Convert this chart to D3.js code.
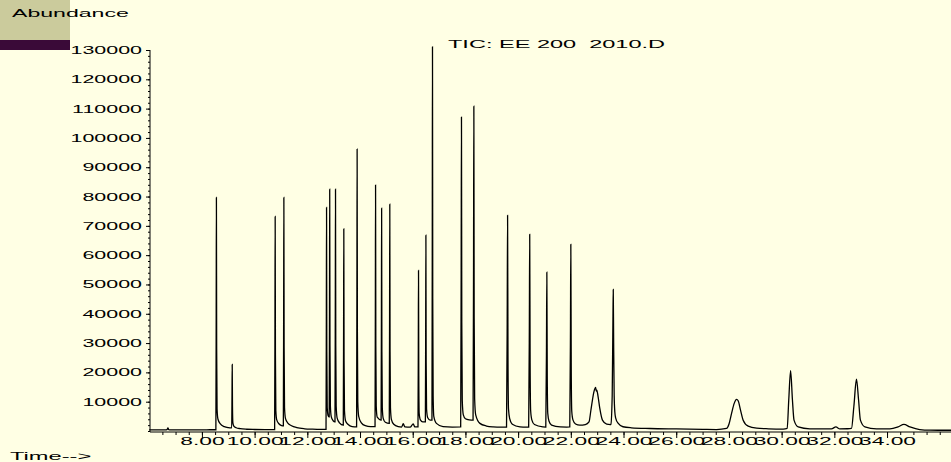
<html>
<script src="https://d3js.org/d3.v7.min.js"></script>
<body style="margin:0;background:#ffffe4">
<svg width=951 height=462></svg>
<script>
// labels and axis ticks
const yLabel = "Abundance";
const xLabel = "Time-->";
const title = "TIC: EE 200  2010.D";
const yTicks = [10000, 20000, 30000, 40000, 50000, 60000, 70000, 80000, 90000, 100000, 110000, 120000, 130000];
const xTicks = [8, 10, 12, 14, 16, 18, 20, 22, 24, 26, 28, 30, 32, 34];

// total ion chromatogram (min, counts)
const time = [
  6.00, 6.30, 6.60, 6.68, 6.71, 6.74, 6.80, 7.20, 7.60, 8.00, 8.30, 8.53,
  8.542, 8.55, 8.56, 8.575, 8.61, 8.70, 8.85, 9.00, 9.13,
  9.142, 9.15, 9.16, 9.175, 9.21, 9.30, 9.45, 9.70, 10.00, 10.40, 10.76,
  10.772, 10.78, 10.79, 10.805, 10.84, 10.93, 11.03, 11.09,
  11.102, 11.11, 11.12, 11.135, 11.17, 11.26, 11.40, 11.60, 11.90, 12.20, 12.50, 12.71,
  12.722, 12.73, 12.74, 12.755, 12.79, 12.83,
  12.842, 12.85, 12.86, 12.875, 12.91, 12.98, 13.05,
  13.062, 13.07, 13.08, 13.095, 13.13, 13.22, 13.365,
  13.377, 13.385, 13.395, 13.41, 13.45, 13.55, 13.70, 13.87,
  13.882, 13.89, 13.90, 13.915, 13.95, 14.05, 14.20, 14.40, 14.57,
  14.582, 14.59, 14.60, 14.615, 14.65, 14.70, 14.74, 14.80,
  14.812, 14.82, 14.83, 14.845, 14.88, 14.96, 15.11,
  15.122, 15.13, 15.14, 15.155, 15.19, 15.28, 15.45, 15.58, 15.64, 15.70, 15.90, 16.02, 16.08, 16.20,
  16.212, 16.22, 16.23, 16.245, 16.29, 16.38, 16.48,
  16.492, 16.50, 16.51, 16.525, 16.57, 16.66, 16.73,
  16.742, 16.75, 16.76, 16.775, 16.80, 16.90, 17.15, 17.50, 17.82,
  17.838, 17.85, 17.862, 17.88, 17.92, 18.00, 18.15, 18.29,
  18.308, 18.32, 18.332, 18.35, 18.39, 18.55, 18.80, 19.05, 19.35, 19.56,
  19.585, 19.60, 19.615, 19.635, 19.68, 19.78, 20.07, 20.30, 20.40,
  20.425, 20.44, 20.455, 20.475, 20.52, 20.62, 20.94, 21.05,
  21.075, 21.09, 21.105, 21.125, 21.17, 21.27, 21.60, 21.84, 21.96,
  21.985, 22.00, 22.015, 22.035, 22.08, 22.18, 22.34, 22.55, 22.69,
  22.76, 22.82, 22.88, 22.94, 22.965, 22.985, 23.03, 23.10, 23.20, 23.36, 23.50,
  23.52, 23.57, 23.60, 23.61, 23.625, 23.645, 23.67, 23.70, 23.80, 23.98, 24.30, 25.00, 26.00, 27.00, 27.53, 27.91,
  28.00, 28.10, 28.20, 28.29, 28.35, 28.44, 28.54, 28.73, 29.05, 29.50, 30.06, 30.21,
  30.27, 30.34, 30.41, 30.47, 30.63, 31.07, 31.50, 31.89,
  32.06, 32.21, 32.50, 32.65,
  32.74, 32.84, 32.92, 32.99, 33.16, 33.60, 34.11, 34.42, 34.64, 34.87, 35.24, 35.63, 36.00, 36.45
];
const abundance = [
  350, 380, 360, 480, 1100, 450, 380, 390, 400, 400, 420, 430,
  40000, 79700, 28000, 7500, 4000, 2400, 1500, 1150, 1050,
  12000, 22700, 8500, 2800, 1700, 1100, 800, 600, 520, 480, 500,
  37000, 73200, 26000, 7000, 3800, 2400, 1850, 1750,
  40000, 79700, 28500, 8000, 4300, 2700, 1800, 1150, 750, 620, 560, 560,
  38000, 76300, 27000, 8000, 5200, 4800,
  42000, 82500, 29000, 8500, 4800, 3500, 3100,
  42000, 82500, 29000, 8500, 4500, 2800, 2000,
  35000, 69000, 24000, 7000, 3500, 2200, 1500, 1400,
  48000, 96200, 34000, 10000, 5000, 2800, 1800, 1500, 1500,
  42000, 83900, 29000, 8500, 4800, 4300, 3900, 3700,
  38000, 76000, 27000, 8000, 4300, 3000, 2600,
  39000, 77400, 27000, 8000, 4000, 2300, 1500, 1350, 2500, 1400, 1300, 2400, 1400, 1400,
  28000, 54800, 19000, 6000, 3800, 3100, 3100,
  34000, 66800, 23500, 7500, 4500, 3700, 3700,
  66000, 131100, 45000, 12000, 5000, 2600, 1500, 1350, 1400,
  54000, 107100, 37000, 10500, 5500, 4200, 3800, 3700,
  56000, 110800, 38500, 11000, 5500, 2600, 1700, 1400, 1300, 1300,
  37000, 73600, 26000, 7500, 4200, 2300, 1400, 1300, 1300,
  34000, 67100, 23500, 7000, 3800, 2200, 1400, 1350,
  27000, 54200, 19000, 6000, 3400, 2000, 1400, 1350, 1400,
  32000, 63700, 22000, 6800, 3800, 2400, 2000, 2200, 3100,
  7000, 10560, 13500, 14900, 13600, 13900, 12000, 7700, 3700, 2330, 2200,
  2300, 12000, 40000, 48300, 30000, 12000, 6500, 4500, 2570, 1450, 1100, 860, 700, 560, 500, 860,
  2300, 6000, 9430, 10800, 10300, 7130, 3700, 1650, 960, 750, 650, 860,
  10560, 20600, 10560, 3700, 1400, 740, 700, 720,
  1400, 720, 760, 860,
  8260, 17650, 10560, 3700, 1400, 740, 720, 1400, 2230, 1400, 500, 280, 260, 250
];

const svg = d3.select("svg");
const font = "Liberation Sans, Arial, sans-serif";

svg.append("rect").attr("width", 951).attr("height", 462).attr("fill", "#ffffe4");

// title block in the top left corner
svg.append("rect").attr("x", 0).attr("y", 0).attr("width", 70).attr("height", 40).attr("fill", "#cbcb9c");
svg.append("rect").attr("x", 0).attr("y", 40).attr("width", 70).attr("height", 10).attr("fill", "#3a0a38");

// text in the original is stretched sideways
function wideText(px, py, txt, sx) {
  return svg.append("text")
    .attr("transform", `translate(${px},${py}) scale(${sx},1)`)
    .attr("font-family", font).attr("font-size", 11)
    .style("white-space", "pre")
    .text(txt);
}
wideText(12, 17, yLabel, 2.1);
wideText(448, 47.5, title, 2.14);
wideText(10, 460, xLabel, 2.15);

const x = d3.scaleLinear().domain([6.03, 36.45]).range([150, 951.6]);
const y = d3.scaleLinear().domain([0, 130000]).range([431, 50]);

// y axis
svg.append("g").attr("transform", "translate(150,0)")
  .call(d3.axisLeft(y).tickValues(d3.range(0, 130001, 2000)).tickSize(2).tickSizeOuter(0).tickFormat(""))
  .call(g => g.select(".domain").remove());
const yAxis = svg.append("g").attr("transform", "translate(150,0)")
  .call(d3.axisLeft(y).tickValues(yTicks).tickSize(4).tickSizeOuter(0).tickFormat(d3.format("d")));
yAxis.select(".domain").attr("d", "M0,432V50");
yAxis.selectAll("text")
  .attr("font-family", font).attr("font-size", 11).attr("fill", "#000")
  .attr("x", -8 / 1.95).attr("transform", "scale(1.95,1)");

// x axis
svg.append("g").attr("transform", "translate(0,432)")
  .call(d3.axisBottom(x).tickValues(d3.range(6.5, 36.5, 0.5)).tickSize(3).tickSizeOuter(0).tickFormat(""))
  .call(g => g.select(".domain").remove());
const xAxis = svg.append("g").attr("transform", "translate(0,432)")
  .call(d3.axisBottom(x).tickValues(xTicks).tickSize(6).tickSizeOuter(0).tickFormat(d3.format(".2f")));
xAxis.select(".domain").attr("d", "M150,0H951");
xAxis.selectAll("text")
  .attr("font-family", font).attr("font-size", 11).attr("fill", "#000")
  .attr("text-anchor", "middle").attr("y", 5).attr("x", 0)
  .attr("transform", "scale(2.07,1)");

// chromatogram trace
const line = d3.line()
  .x(i => x(time[i]))
  .y(i => y(abundance[i]))
  .curve(d3.curveMonotoneX);
svg.append("path")
  .datum(d3.range(time.length))
  .attr("fill", "none").attr("stroke", "#000").attr("stroke-width", 1.3)
  .attr("d", line);
</script>
</body>
</html>
